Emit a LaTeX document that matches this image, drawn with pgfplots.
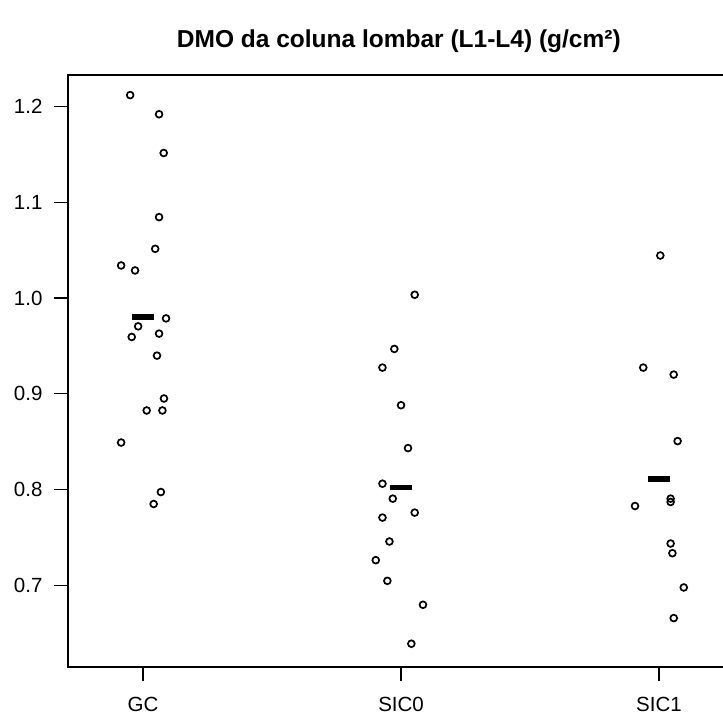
\documentclass[border=0pt]{standalone}
\usepackage{fontspec}
\setmainfont{Liberation Sans}
\usepackage{pgfplots}
\pgfplotsset{compat=1.18}

% GC, SIC0, SIC1: jittered x position and BMD value
\pgfplotstableread{
x y
0.950 1.212
1.062 1.192
1.080 1.1515
1.062 1.0845
1.047 1.0514
0.915 1.034
0.969 1.0288
1.089 0.9787
0.981 0.9704
0.956 0.9593
1.062 0.9628
1.054 0.9398
1.081 0.895
1.014 0.8825
1.075 0.8825
0.915 0.849
1.069 0.7973
1.041 0.7848
}\gc
\pgfplotstableread{
x y
2.053 1.0034
1.974 0.9468
1.928 0.9273
2.000 0.888
2.027 0.8432
1.928 0.806
1.968 0.7904
2.053 0.7758
1.928 0.7706
1.955 0.7456
1.902 0.7261
1.947 0.7045
2.085 0.6795
2.040 0.6388
}\sicz
\pgfplotstableread{
x y
3.005 1.0444
2.939 0.9273
3.057 0.920
3.072 0.8505
2.907 0.7827
3.045 0.7904
3.045 0.7869
3.045 0.7435
3.052 0.7334
3.096 0.6976
3.057 0.6656
}\sico

\begin{document}
\begin{tikzpicture}
\useasboundingbox (0,0) rectangle (723pt,717pt);
\begin{axis}[
  at={(68pt,50pt)}, anchor=south west,
  scale only axis, width=667pt, height=592pt,
  xmin=0.709, xmax=3.2946, ymin=0.6145, ymax=1.233,
  axis line style={line width=1.3pt},
  xtick={1,2,3}, xticklabels={GC,SIC0,SIC1},
  ytick={0.7,0.8,0.9,1.0,1.1,1.2},
  xtick pos=bottom, ytick pos=left,
  tick align=outside, major tick length=14pt,
  tick style={line width=1.2pt, black},
  ticklabel style={font=\fontsize{20.5}{25}\selectfont},
  /pgf/number format/assume math mode=true,
  xticklabel style={yshift=-13pt},
  yticklabel style={xshift=-8pt, /pgf/number format/fixed, /pgf/number format/fixed zerofill, /pgf/number format/precision=1},
  title={DMO da coluna lombar (L1-L4) (g/cm²)},
  title style={font=\bfseries\fontsize{24.5}{28}\selectfont, at={(axis description cs:0.496,1)}, anchor=base, yshift=21pt},
  clip=false,
]
\addplot[only marks, mark=o, mark size=3.4pt, mark options={line width=1.7pt, black}] table {\gc};
\addplot[only marks, mark=o, mark size=3.4pt, mark options={line width=1.7pt, black}] table {\sicz};
\addplot[only marks, mark=o, mark size=3.4pt, mark options={line width=1.7pt, black}] table {\sico};
% group means
\addplot[black, line width=5.5pt] coordinates {(0.958,0.980) (1.042,0.980)};
\addplot[black, line width=5.5pt] coordinates {(1.956,0.802) (2.044,0.802)};
\addplot[black, line width=5.5pt] coordinates {(2.956,0.811) (3.044,0.811)};
\end{axis}
\end{tikzpicture}
\end{document}
